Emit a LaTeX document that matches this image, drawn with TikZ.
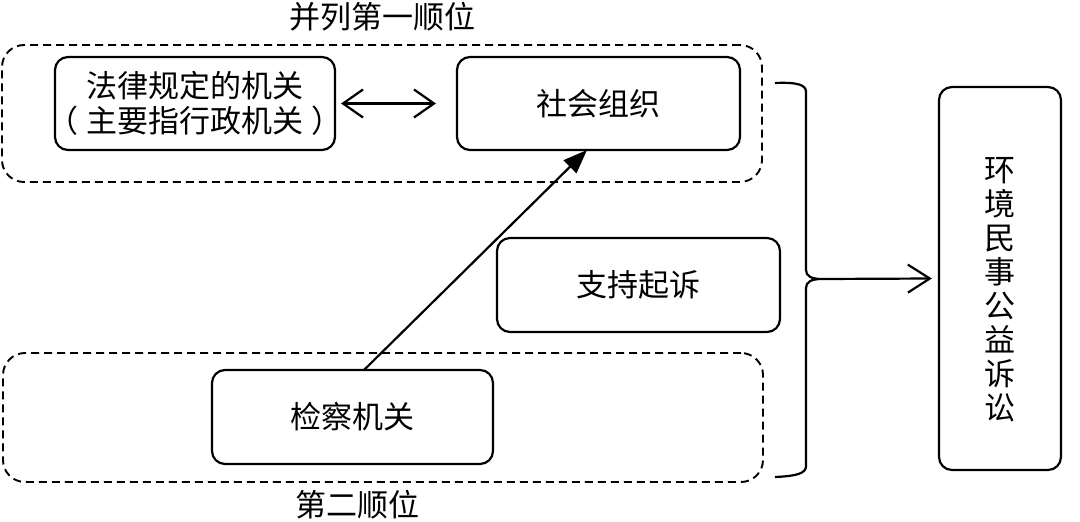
\documentclass[tikz,border=0pt]{standalone}
\usepackage{fontspec}
\setmainfont{Noto Sans CJK SC}
\usetikzlibrary{arrows.meta}
\begin{document}
\begin{tikzpicture}[x=1pt,y=-1pt,
  every node/.style={font=\fontsize{31}{35}\selectfont, inner sep=0pt},
  box/.style={draw, line width=2.2pt, rounded corners=13pt, align=center},
  group/.style={draw, line width=1.9pt, dash pattern=on 8pt off 5pt, rounded corners=22pt},
  lbl/.style={},
  conn/.style={line width=2.2pt}
]
\useasboundingbox (0,0) rectangle (1080,522);
% dashed groups
\node[group, minimum width=760pt, minimum height=137pt] (g1) at (382,113.5) {};
\node[group, minimum width=760pt, minimum height=129pt] (g2) at (383,417.5) {};
\node[lbl] (t1) at (382,17) {并列第一顺位};
\node[lbl] (t2) at (357,505) {第二顺位};
% boxes
\node[box, minimum width=280pt, minimum height=93pt] (law) at (195,103.5) {法律规定的机关\\\makebox[260pt]{（\hspace{8pt}主要指行政机关\hspace{8pt}）}};
\node[box, minimum width=283pt, minimum height=93pt] (org) at (598.5,103.5) {社会组织};
\node[box, minimum width=283pt, minimum height=94pt] (sup) at (638.5,285) {支持起诉};
\node[box, minimum width=281pt, minimum height=94pt] (pro) at (352.5,417) {检察机关};
\node[box, minimum width=122pt, minimum height=383pt, font=\fontsize{31}{34}\selectfont] (env) at (1000,278.5) {\rule{0pt}{46pt}环\\境\\民\\事\\公\\益\\诉\\讼};
% connectors
\draw[conn, {Straight Barb[length=20pt,width=28pt]}-{Straight Barb[length=20pt,width=28pt]}] ([xshift=5pt]law.east) -- ([xshift=-20pt]org.west);
\draw[conn, -{Triangle[length=24pt,width=18pt]}] (364,370) coordinate (ps) -- (587,150) coordinate (pe);
% brace
\draw[conn] (775,83) .. controls (798,82) and (806,85) .. (806,92) -- (806,270)
  .. controls (806,276) and (811,279) .. (822,279) coordinate (bt)
  .. controls (811,279) and (806,282) .. (806,288) -- (806,466)
  .. controls (806,473) and (798,476) .. (775,477);
\draw[conn, -{Straight Barb[length=22pt,width=28pt]}] (bt) -- ([xshift=-6pt]env.west);
\end{tikzpicture}
\end{document}
